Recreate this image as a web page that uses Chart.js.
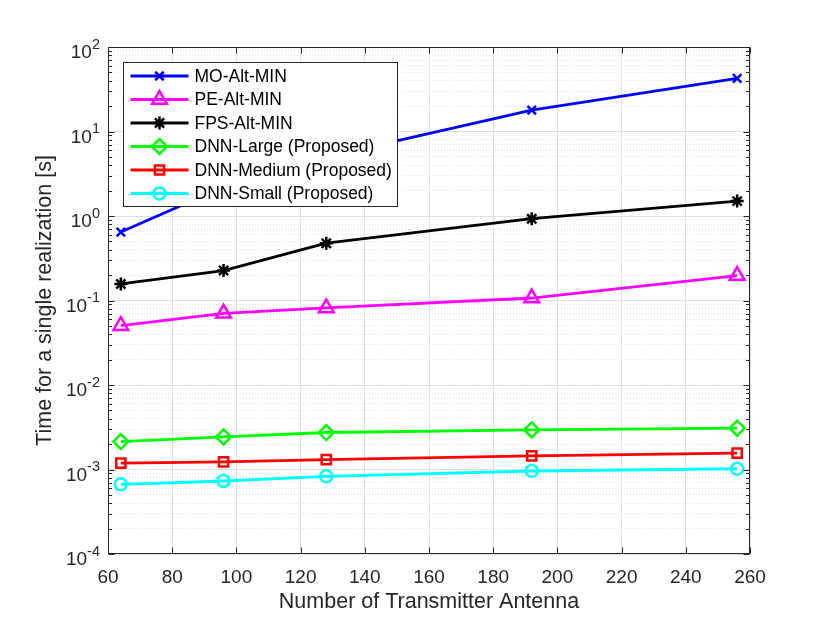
<!DOCTYPE html>
<html>
<head>
<meta charset="utf-8">
<script src="https://cdn.jsdelivr.net/npm/chart.js@4.4.1/dist/chart.umd.min.js"></script>
<style>
html,body{margin:0;padding:0;background:#fff;}
#wrap{width:830px;height:623px;}
</style>
</head>
<body>
<div id="wrap"><canvas id="chart" width="830" height="623"></canvas></div>
<script>
// number of transmit antennas (x) and time per realization in seconds (y)
const antennas=[64,96,128,192,256];
const moAltMin=[0.645,2.2,5.0,17.9,42.5];
const peAltMin=[0.0504,0.0706,0.0817,0.107,0.197];
const fpsAltMin=[0.157,0.226,0.477,0.93,1.50];
const dnnLarge=[0.00214,0.00243,0.00274,0.00294,0.00308];
const dnnMedium=[0.00119,0.00123,0.00131,0.00145,0.00156];
const dnnSmall=[0.000667,0.000731,0.00083,0.00096,0.00102];

const seriesLabels=['MO-Alt-MIN','PE-Alt-MIN','FPS-Alt-MIN','DNN-Large (Proposed)','DNN-Medium (Proposed)','DNN-Small (Proposed)'];
const xTickValues=[60,80,100,120,140,160,180,200,220,240,260];
const yDecades=[-4,-3,-2,-1,0,1,2];

const FONT='"Liberation Sans", Arial, Helvetica, sans-serif';
const AXIS_COLOR='#262626';

function isDecade(v){
    const l=Math.log10(v);
    return Math.abs(l-Math.round(l))<1e-9;
}

function makeSeries(label,values,color,style,radius){
    return {
        label:label,
        data:values.map((v,i)=>({x:antennas[i],y:v})),
        borderColor:color,
        backgroundColor:'rgba(0,0,0,0)',
        borderWidth:2.8,
        borderJoinStyle:'round',
        pointStyle:style,
        pointRadius:radius,
        pointHoverRadius:radius,
        pointBorderWidth:2.5,
        pointBorderColor:color,
        pointBackgroundColor:'rgba(0,0,0,0)',
        tension:0
    };
}

//inner ticks, box and 10^n labels like matlab
const axesBox={
    id:'axesBox',
    afterDatasetsDraw(chart){
        const ctx=chart.ctx, a=chart.chartArea, xs=chart.scales.x, ys=chart.scales.y;
        const L=Math.round(a.left)+0.5, R=Math.round(a.right)-0.5, T=Math.round(a.top)+0.5, B=Math.round(a.bottom)-0.5;
        ctx.save();
        ctx.strokeStyle=AXIS_COLOR;
        ctx.lineWidth=1;
        ctx.setLineDash([]);
        ctx.beginPath();
        xs.ticks.forEach(t=>{
            const px=Math.round(xs.getPixelForValue(t.value))+0.5;
            ctx.moveTo(px,B); ctx.lineTo(px,B-6);
            ctx.moveTo(px,T); ctx.lineTo(px,T+6);
        });
        ys.ticks.forEach(t=>{
            const py=Math.round(ys.getPixelForValue(t.value))+0.5;
            const len=isDecade(t.value)?6:3.5;
            ctx.moveTo(L,py); ctx.lineTo(L+len,py);
            ctx.moveTo(R,py); ctx.lineTo(R-len,py);
        });
        ctx.stroke();
        ctx.strokeRect(L,T,R-L,B-T);

        // y tick labels with raised exponent
        ctx.fillStyle=AXIS_COLOR;
        ctx.textBaseline='alphabetic';
        ctx.textAlign='left';
        ys.ticks.forEach(t=>{
            if(!isDecade(t.value)) return;
            const py=ys.getPixelForValue(t.value);
            const e=String(Math.round(Math.log10(t.value)));
            ctx.font='14.5px '+FONT;
            const ew=ctx.measureText(e).width;
            ctx.font='19px '+FONT;
            const bw=ctx.measureText('10').width;
            const xr=a.left-8;
            ctx.fillText('10',xr-ew-bw,py+11.3);
            ctx.font='14.5px '+FONT;
            ctx.fillText(e,xr-ew,py+1.5);
        });
        ctx.restore();
    }
};

//legend box inside the plot, line + marker like matlab
const boxLegend={
    id:'boxLegend',
    afterDatasetsDraw(chart){
        const ctx=chart.ctx, a=chart.chartArea;
        const rowH=23.5;
        const left=Math.round(a.left)+15.5, top=Math.round(a.top)+15.5;
        ctx.save();
        ctx.font='17.5px '+FONT;
        let maxW=0;
        chart.data.datasets.forEach(d=>{maxW=Math.max(maxW,ctx.measureText(d.label).width);});
        const w=Math.round(71+maxW+6), h=Math.round(rowH*6+3);
        ctx.fillStyle='#fff';
        ctx.fillRect(left,top,w,h);
        ctx.strokeStyle=AXIS_COLOR;
        ctx.lineWidth=1;
        ctx.strokeRect(left,top,w,h);
        chart.data.datasets.forEach((d,i)=>{
            const y=top+13.5+i*rowH;
            ctx.strokeStyle=d.borderColor;
            ctx.lineWidth=d.borderWidth;
            ctx.lineCap='butt';
            ctx.beginPath();
            ctx.moveTo(left+7,y);
            ctx.lineTo(left+65,y);
            ctx.stroke();
            ctx.lineWidth=d.pointBorderWidth;
            ctx.fillStyle='rgba(0,0,0,0)';
            Chart.helpers.drawPoint(ctx,{pointStyle:d.pointStyle,radius:d.pointRadius,borderWidth:d.pointBorderWidth,rotation:0},left+36,y);
            ctx.fillStyle='#000';
            ctx.textAlign='left';
            ctx.textBaseline='middle';
            ctx.fillText(d.label,left+71,y+1);
        });
        ctx.restore();
    }
};

const ctx=document.getElementById('chart').getContext('2d');
const myChart=new Chart(ctx,{
    type:'line',
    data:{
        datasets:[
            makeSeries(seriesLabels[0],moAltMin,'#0000ff','crossRot',6),
            makeSeries(seriesLabels[1],peAltMin,'#ff00ff','triangle',8.5),
            makeSeries(seriesLabels[2],fpsAltMin,'#000000','star',6.5),
            makeSeries(seriesLabels[3],dnnLarge,'#00ff00','rectRot',7.5),
            makeSeries(seriesLabels[4],dnnMedium,'#ff0000','rect',6.5),
            makeSeries(seriesLabels[5],dnnSmall,'#00ffff','circle',6)
        ]
    },
    options:{
        responsive:false,
        animation:false,
        devicePixelRatio:1,
        layout:{padding:{top:47,right:80,left:0,bottom:0}},
        plugins:{legend:{display:false},tooltip:{enabled:false}},
        scales:{
            x:{
                type:'linear',
                min:60,max:260,
                afterBuildTicks(scale){scale.ticks=xTickValues.map(v=>({value:v}));},
                afterFit(scale){scale.height=69;},
                grid:{color:'#dfdfdf',lineWidth:1,drawTicks:false},
                border:{display:false},
                ticks:{color:AXIS_COLOR,font:{family:FONT,size:19},padding:12,maxRotation:0,autoSkip:false},
                title:{display:true,text:'Number of Transmitter Antenna',color:AXIS_COLOR,font:{family:FONT,size:21.5},padding:{top:0,bottom:8}}
            },
            y:{
                type:'logarithmic',
                min:1e-4,max:1e2,
                afterBuildTicks(scale){
                    const t=[];
                    yDecades.forEach(d=>{
                        if(d===yDecades[yDecades.length-1]){t.push({value:Math.pow(10,d)});return;}
                        for(let m=1;m<10;m++) t.push({value:m*Math.pow(10,d)});
                    });
                    scale.ticks=t;
                },
                afterFit(scale){scale.width=108;},
                grid:{
                    color:c=>isDecade(c.tick.value)?'#dfdfdf':'#e3e3e3',
                    lineWidth:1,
                    drawTicks:false
                },
                border:{display:false,dash:c=>(c.tick&&!isDecade(c.tick.value))?[1,2]:[]},
                ticks:{display:true,color:'rgba(0,0,0,0)',font:{family:FONT,size:19},padding:8,autoSkip:false,callback:()=>''},
                title:{display:true,text:'Time for a single realization [s]',color:AXIS_COLOR,font:{family:FONT,size:21.5},padding:{top:32,bottom:0}}
            }
        }
    },
    plugins:[axesBox,boxLegend]
});
</script>
</body>
</html>
